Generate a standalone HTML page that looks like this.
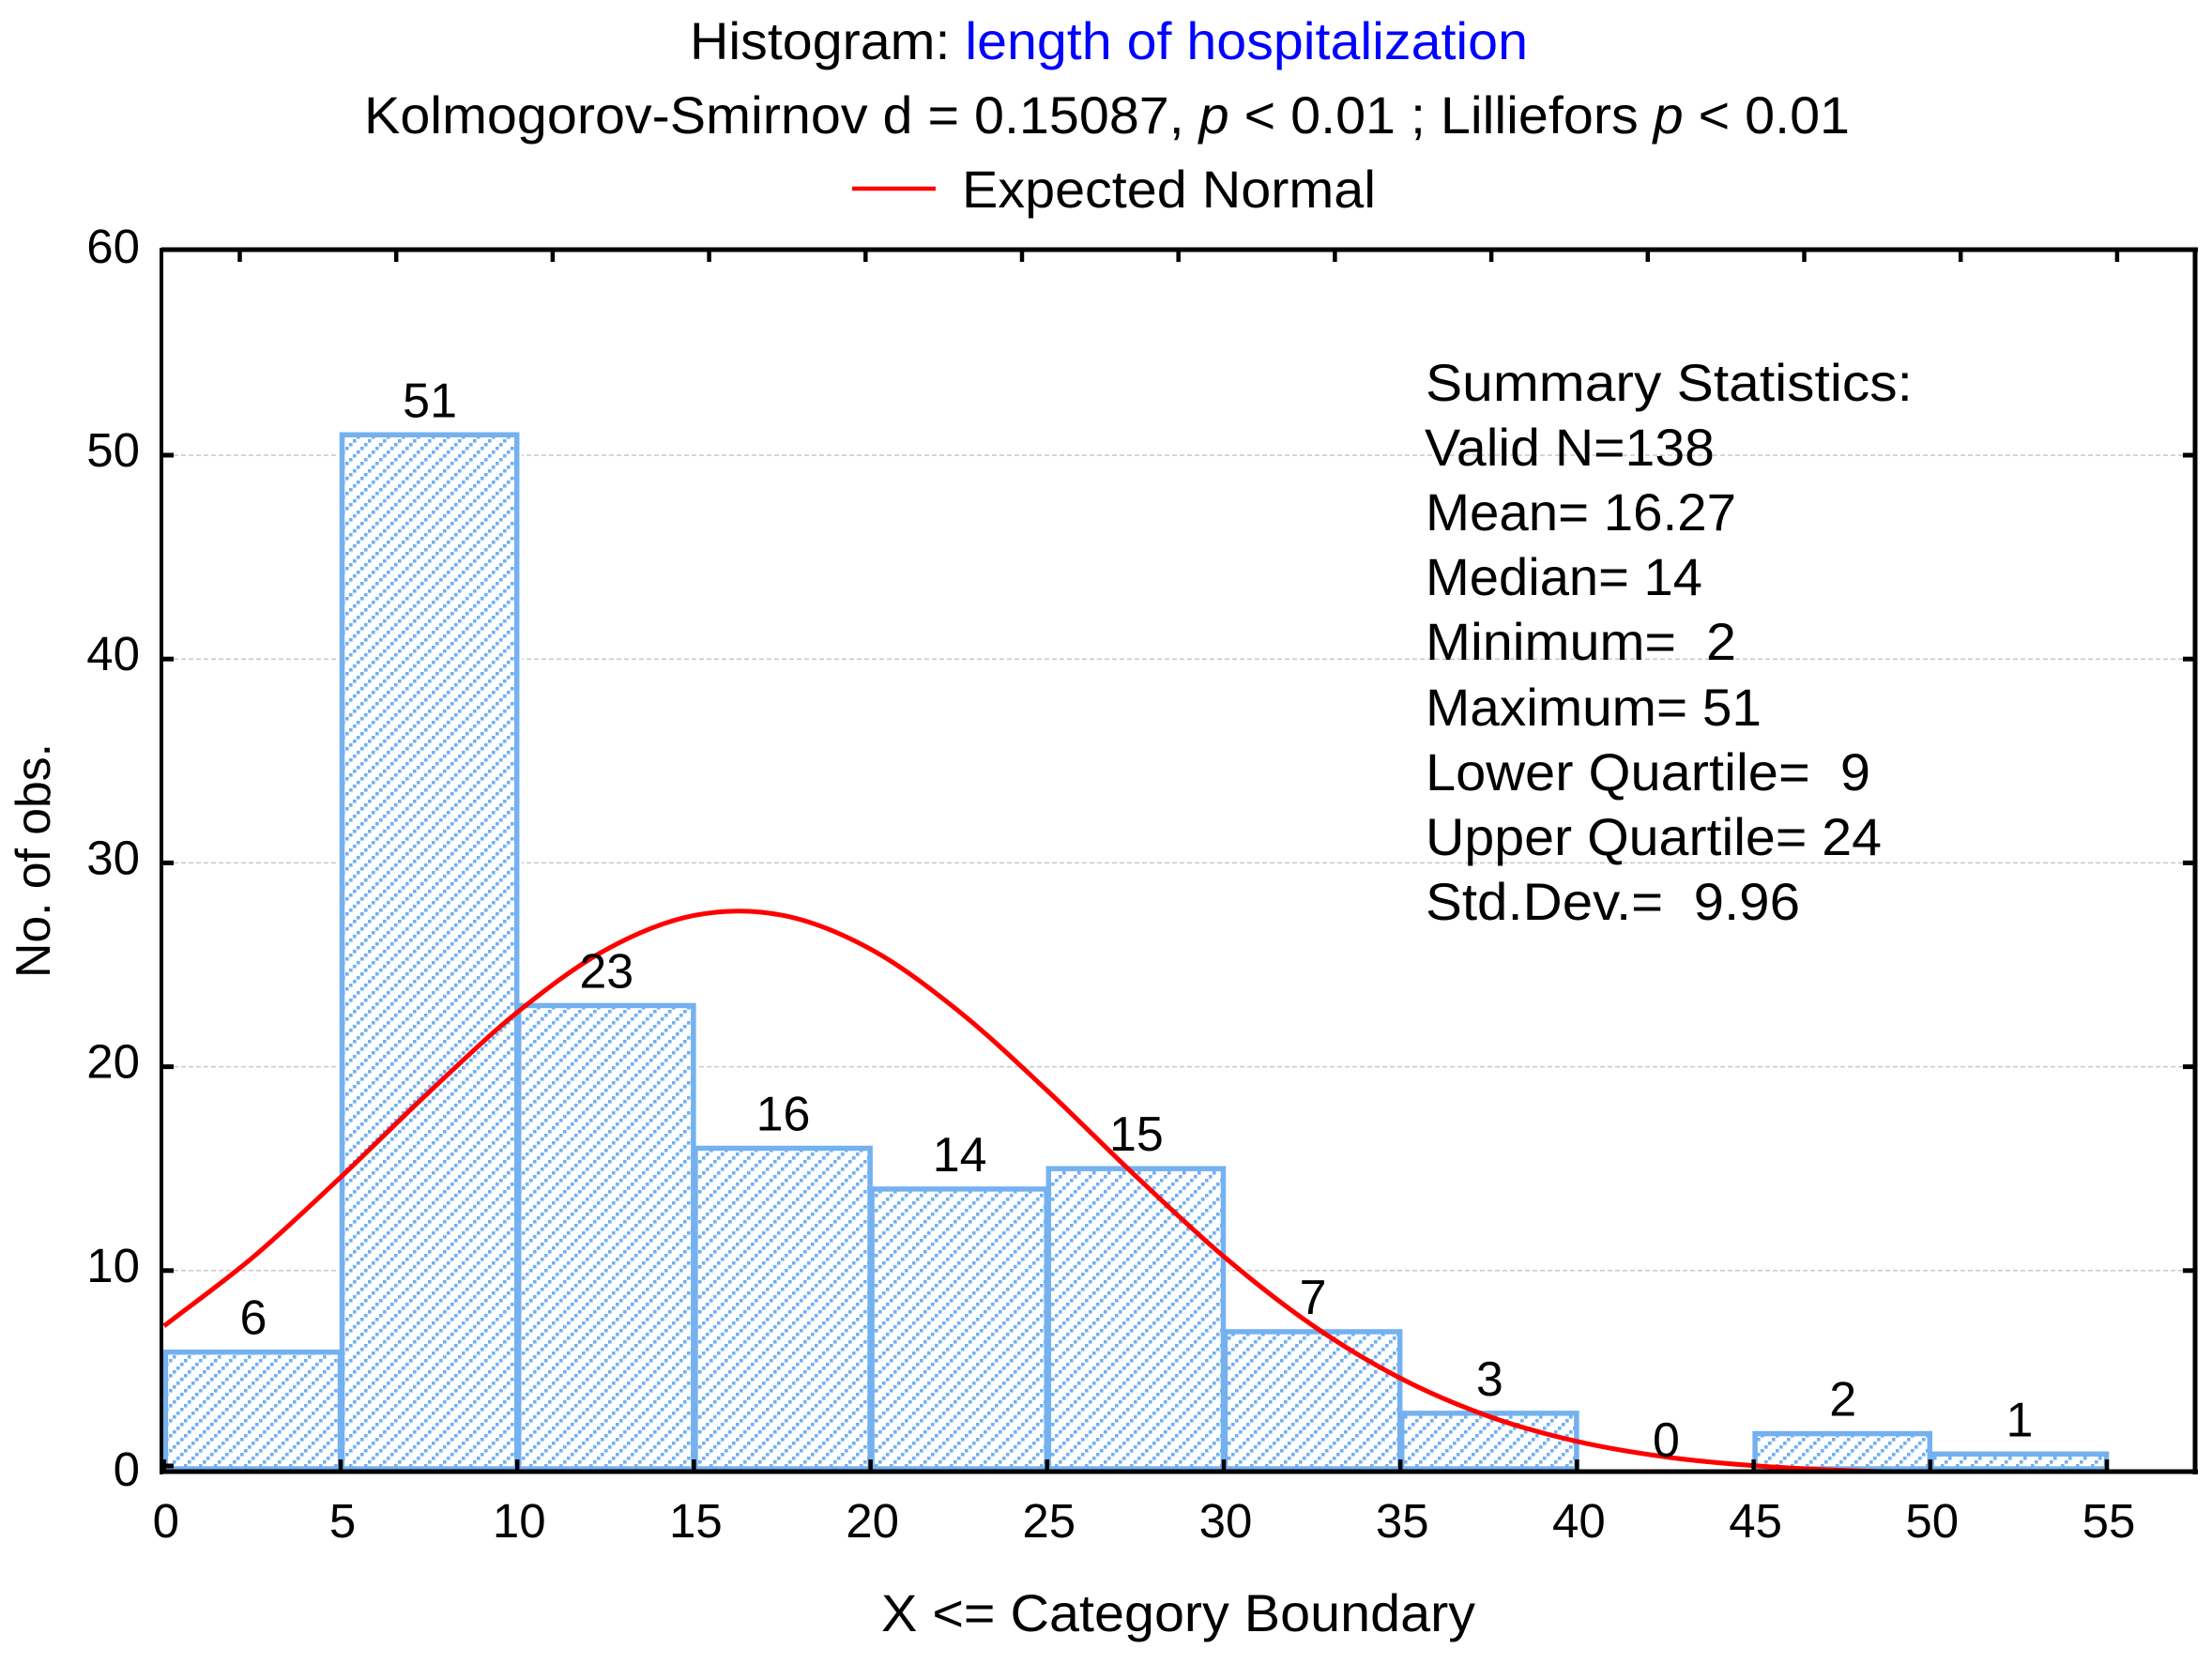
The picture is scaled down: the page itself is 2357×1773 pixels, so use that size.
<!DOCTYPE html>
<html>
<head>
<meta charset="utf-8">
<title>Histogram: length of hospitalization</title>
<style>
html,body{margin:0;padding:0;background:#fff;}
svg{display:block;}
text{font-family:"Liberation Sans",Arial,sans-serif;font-size:56px;fill:#000;white-space:pre;}
text.num{font-size:51px;}
text.val{font-size:52px;}
</style>
</head>
<body>
<svg id="chart" xmlns="http://www.w3.org/2000/svg" width="2357" height="1773" viewBox="0 0 2357 1773">
<defs>
<pattern id="hatch" patternUnits="userSpaceOnUse" width="16" height="16">
<rect x="0" y="12" width="4" height="4" fill="#d6e7fb"/>
<rect x="4" y="8" width="4" height="4" fill="#d6e7fb"/>
<rect x="8" y="4" width="4" height="4" fill="#d6e7fb"/>
<rect x="12" y="0" width="4" height="4" fill="#d6e7fb"/>
<rect x="0" y="12" width="3.4" height="3.4" fill="#6fb0f3"/>
<rect x="4" y="8" width="3.4" height="3.4" fill="#6fb0f3"/>
<rect x="8" y="4" width="3.4" height="3.4" fill="#6fb0f3"/>
<rect x="12" y="0" width="3.4" height="3.4" fill="#6fb0f3"/>
</pattern>
<clipPath id="plot-clip"><rect x="172" y="266" width="2167" height="1302"/></clipPath>
</defs>
<rect x="0" y="0" width="2357" height="1773" fill="#fff"/>
<text x="735" y="63" textLength="893" lengthAdjust="spacingAndGlyphs">Histogram: <tspan fill="#0000ff" style="fill:#0000ff">length of hospitalization</tspan></text>
<text x="388" y="142" textLength="1583" lengthAdjust="spacingAndGlyphs">Kolmogorov-Smirnov d = 0.15087, <tspan font-style="italic">p</tspan> &lt; 0.01 ; Lilliefors <tspan font-style="italic">p</tspan> &lt; 0.01</text>
<line x1="908" y1="201" x2="997" y2="201" stroke="#ff0000" stroke-width="4.5"/>
<text x="1025" y="221" textLength="441" lengthAdjust="spacingAndGlyphs">Expected Normal</text>
<g id="grid-layer"></g>
<g id="bar-layer"></g>
<g id="curve-layer" clip-path="url(#plot-clip)"></g>
<g id="value-layer"></g>
<g id="stats">
<text x="1519" y="427" textLength="519" lengthAdjust="spacingAndGlyphs">Summary Statistics:</text>
<text x="1518" y="496" textLength="309" lengthAdjust="spacingAndGlyphs">Valid N=138</text>
<text x="1519" y="565" textLength="331" lengthAdjust="spacingAndGlyphs" xml:space="preserve">Mean= 16.27</text>
<text x="1519" y="634" textLength="295" lengthAdjust="spacingAndGlyphs">Median= 14</text>
<text x="1519" y="703" textLength="331" lengthAdjust="spacingAndGlyphs" xml:space="preserve">Minimum=  2</text>
<text x="1519" y="773" textLength="358" lengthAdjust="spacingAndGlyphs">Maximum= 51</text>
<text x="1519" y="842" textLength="474" lengthAdjust="spacingAndGlyphs" xml:space="preserve">Lower Quartile=  9</text>
<text x="1519" y="911" textLength="486" lengthAdjust="spacingAndGlyphs">Upper Quartile= 24</text>
<text x="1519" y="980" textLength="399" lengthAdjust="spacingAndGlyphs" xml:space="preserve">Std.Dev.=  9.96</text>
</g>
<g id="axis-layer"></g>
<text x="939" y="1738" textLength="633" lengthAdjust="spacingAndGlyphs">X &lt;= Category Boundary</text>
<text class="val" transform="translate(53,1042) rotate(-90)" x="0" y="0" textLength="250" lengthAdjust="spacingAndGlyphs">No. of obs.</text>
</svg>
<script>
// Histogram data
const binEdges = [0, 5, 10, 15, 20, 25, 30, 35, 40, 45, 50, 55];
const binCounts = [6, 51, 23, 16, 14, 15, 7, 3, 0, 2, 1];
const xTickLabels = [0, 5, 10, 15, 20, 25, 30, 35, 40, 45, 50, 55];
const yTickLabels = [0, 10, 20, 30, 40, 50, 60];
// Expected Normal curve
const curveX = [0, 2.5, 5, 7.5, 10, 12.5, 15, 17.5, 20, 22.5, 25, 27.5, 30, 32.5, 35, 37.5, 40, 42.5, 45, 47.5, 50, 52.5, 55];
const curveY = [7.28, 10.63, 14.58, 18.75, 22.67, 25.73, 27.42, 27.43, 25.77, 22.72, 18.83, 14.65, 10.69, 7.33, 4.72, 2.85, 1.62, 0.86, 0.43, 0.2, 0.09, 0.04, 0.01];

const NS = 'http://www.w3.org/2000/svg';
const xScale = v => 174.8 + v * 37.64;
const yScale = v => 1571 - v * 21.72;
const PLOT = {left: 172, right: 2339, top: 266, bottom: 1568};

function mk(tag, parent) {
  const el = document.createElementNS(NS, tag);
  parent.appendChild(el);
  return el;
}
function setAll(el, props) {
  for (const k in props) el.setAttribute(k, props[k]);
}

const gridLayer = document.getElementById('grid-layer');
const barLayer = document.getElementById('bar-layer');
const curveLayer = document.getElementById('curve-layer');
const valueLayer = document.getElementById('value-layer');
const axisLayer = document.getElementById('axis-layer');

// gridlines
yTickLabels.forEach(v => {
  if (v === 0 || v === 60) return;
  const g = mk('line', gridLayer);
  
  
  setAll(g, {x1: PLOT.left + 13, x2: PLOT.right - 13, y1: yScale(v), y2: yScale(v), stroke: '#c8c8c8', 'stroke-width': 1.5, 'stroke-dasharray': '5 3'});
});

// bars
binCounts.forEach((c, i) => {
  const x0 = xScale(binEdges[i]);
  const x1 = xScale(binEdges[i + 1]);
  const yt = yScale(c);
  const halo = mk('rect', barLayer);
  
  
  setAll(halo, {x: x0 - 5, y: yt - 5, width: x1 - x0 + 10, height: Math.max(0, PLOT.bottom - yt + 5), fill: '#fff'});
});
binCounts.forEach((c, i) => {
  if (c === 0) return;
  const x0 = xScale(binEdges[i]) + 1.5;
  const x1 = xScale(binEdges[i + 1]) - 0.5;
  const yt = yScale(c);
  const r = mk('rect', barLayer);
  
  
  setAll(r, {x: x0, y: yt, width: x1 - x0, height: PLOT.bottom - 3 - yt, fill: 'url(#hatch)', stroke: '#74b1f0', 'stroke-width': 5.5});
});

// curve: piecewise Hermite through the read points, slopes from neighbours
function curvePath() {
  const pts = curveX.map((x, i) => [xScale(x), yScale(curveY[i])]);
  const n = pts.length;
  const slope = i => {
    const a = pts[Math.max(0, i - 1)], b = pts[Math.min(n - 1, i + 1)];
    return (b[1] - a[1]) / (b[0] - a[0]);
  };
  let d = 'M' + pts[0][0] + ' ' + pts[0][1];
  for (let i = 0; i < n - 1; i++) {
    const p1 = pts[i], p2 = pts[i + 1], h = p2[0] - p1[0];
    const c1x = p1[0] + h / 3, c1y = p1[1] + slope(i) * h / 3;
    const c2x = p2[0] - h / 3, c2y = p2[1] - slope(i + 1) * h / 3;
    d += 'C' + c1x + ' ' + c1y + ' ' + c2x + ' ' + c2y + ' ' + p2[0] + ' ' + p2[1];
  }
  return d;
}
const curve = mk('path', curveLayer);


setAll(curve, {d: curvePath(), fill: 'none', stroke: '#ff0000', 'stroke-width': 5});

// bar value labels
binCounts.forEach((c, i) => {
  const t = mk('text', valueLayer);
  
  
  setAll(t, {class: 'val', x: xScale((binEdges[i] + binEdges[i + 1]) / 2) + 1, y: yScale(c) - 19, 'text-anchor': 'middle'});
  t.textContent = c;
});

// frame
const frame = [
  [PLOT.left, PLOT.top, PLOT.right + 3, PLOT.top, 5],
  [PLOT.left, PLOT.top - 2, PLOT.left, PLOT.bottom + 3, 4],
  [PLOT.right, PLOT.top - 2, PLOT.right, PLOT.bottom + 3, 5],
  [PLOT.left - 2, PLOT.bottom, PLOT.right + 3, PLOT.bottom, 5]
];
frame.forEach(f => {
  const l = mk('line', axisLayer);
  
  
  setAll(l, {x1: f[0], y1: f[1], x2: f[2], y2: f[3], stroke: '#000', 'stroke-width': f[4]});
});

// x ticks and labels
xTickLabels.forEach(v => {
  const x = xScale(v);
  const tick = mk('line', axisLayer);
  
  
  setAll(tick, {x1: x, x2: x, y1: PLOT.bottom - 13, y2: PLOT.bottom, stroke: '#000', 'stroke-width': 4.5});
  const label = mk('text', axisLayer);
  
  
  setAll(label, {class: 'num', x: x + 2, y: 1638, 'text-anchor': 'middle'});
  label.textContent = v;
});

// top ticks (secondary frame ticks, evenly spaced)
for (let i = 0; i <= 12; i++) {
  const x = 255.5 + i * 166.7;
  const tick = mk('line', axisLayer);
  
  
  setAll(tick, {x1: x, x2: x, y1: PLOT.top, y2: PLOT.top + 13, stroke: '#000', 'stroke-width': 4.5});
}

// y ticks and labels
yTickLabels.forEach(v => {
  const y = yScale(v);
  if (v !== 60) {
    const left = mk('line', axisLayer);
    
    
    setAll(left, {x1: PLOT.left, x2: PLOT.left + 13, y1: v === 0 ? PLOT.bottom - 6 : y, y2: v === 0 ? PLOT.bottom - 6 : y, stroke: '#000', 'stroke-width': 5});
    if (v !== 0) {
      const right = mk('line', axisLayer);
      
      
      setAll(right, {x1: PLOT.right - 13, x2: PLOT.right, y1: y, y2: y, stroke: '#000', 'stroke-width': 5});
    }
  }
  const label = mk('text', axisLayer);
  
  
  setAll(label, {class: 'num', x: 149, y: y + 12, 'text-anchor': 'end'});
  label.textContent = v;
});
</script>
</body>
</html>
